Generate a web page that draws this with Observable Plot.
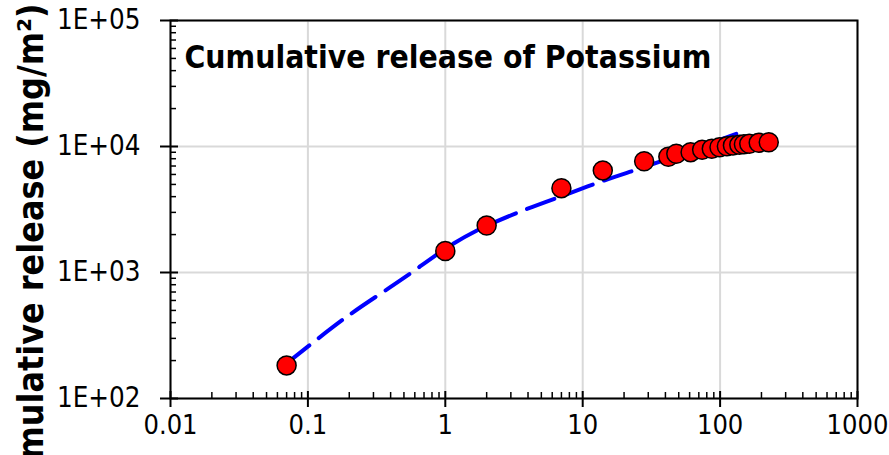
<!DOCTYPE html>
<html><head><meta charset="utf-8">
<script src="https://cdn.jsdelivr.net/npm/d3@7"></script>
<script src="https://cdn.jsdelivr.net/npm/@observablehq/plot@0.6"></script>
<style>html,body{margin:0;padding:0;background:#fff;overflow:hidden}</style>
</head><body><div id="chart"></div>
<script>
// Measured data (days, mg/m2)
const timeDays = [0.07, 1, 2, 7, 14, 28, 42, 48, 61, 74, 87, 99, 112, 124, 138, 149, 163, 191, 226];
const cumulativeRelease = [183, 1480, 2360, 4670, 6460, 7640, 8300, 8750, 9020, 9420, 9590, 9870, 10050, 10180, 10310, 10420, 10500, 10690, 10810];
// Dashed model curve
const modelTime = [0.07, 0.19, 0.47, 1.09, 1.70, 3.43, 8.17, 14.3, 33.1, 131];
const modelRelease = [190, 442, 865, 1637, 2154, 3013, 4285, 5370, 7300, 12620];
// Axes
const xTicks = [0.01, 0.1, 1, 10, 100, 1000];
const xTickLabels = ["0.01", "0.1", "1", "10", "100", "1000"];
const yTicks = [100, 1000, 10000, 100000];
const yTickLabels = ["1E+02", "1E+03", "1E+04", "1E+05"];
const titleText = "Cumulative release of Potassium";
const yLabelText = "Cumulative release (mg/m²)";

const minorOf = (majors) => {
  const out = [];
  for (let i = 0; i < majors.length - 1; i++) for (let k = 2; k <= 9; k++) out.push(majors[i] * k);
  return out;
};
const xMinor = minorOf(xTicks);
const yMinor = minorOf(yTicks);

const pts = timeDays.map((t, i) => ({t, v: cumulativeRelease[i]}));
const model = modelTime.map((t, i) => ({t, v: modelRelease[i]}));

const FONT = "'DejaVu Sans Condensed','DejaVu Sans',sans-serif";

const chart = Plot.plot({
  width: 889, height: 455,
  marginLeft: 170, marginRight: 32, marginTop: 20, marginBottom: 57,
  x: {type: "log", domain: [0.01, 1000]},
  y: {type: "log", domain: [100, 100000]},
  style: {fontFamily: FONT, background: "white", color: "black"},
  marks: [
    Plot.gridX(xTicks, {stroke: "#d9d9d9", strokeOpacity: 1, strokeWidth: 2}),
    Plot.gridY(yTicks, {stroke: "#d9d9d9", strokeOpacity: 1, strokeWidth: 2}),
    Plot.line(model, {x: "t", y: "v", stroke: "#0000ff", strokeWidth: 4, strokeDasharray: "29,12", curve: "catmull-rom"}),
    Plot.dot(pts, {x: "t", y: "v", r: 9.5, fill: "#ff0000", stroke: "black", strokeWidth: 1.5}),
    Plot.frame({stroke: "black", strokeWidth: 2}),
    // minor ticks (inside)
    Plot.axisX(xMinor, {anchor: "bottom", tickSize: 6, dy: -6, text: null, label: null, strokeWidth: 1.5}),
    Plot.axisY(yMinor, {anchor: "left", tickSize: 6, dx: 6, text: null, label: null, strokeWidth: 1.5}),
    // major ticks (crossing)
    Plot.axisX(xTicks, {anchor: "bottom", tickSize: 16, dy: -7, text: null, label: null, strokeWidth: 2}),
    Plot.axisY(yTicks, {anchor: "left", tickSize: 18, dx: 8, text: null, label: null, strokeWidth: 2}),
    // labels
    Plot.axisX(xTicks, {anchor: "bottom", tickSize: 0, tickPadding: 16, label: null, fontSize: 27,
      tickFormat: d => xTickLabels[xTicks.indexOf(d)]}),
    Plot.axisY(yTicks, {anchor: "left", tickSize: 0, tickPadding: 30, label: null, fontSize: 27.5,
      tickFormat: d => yTickLabels[yTicks.indexOf(d)]}),
    Plot.text([titleText], {frameAnchor: "top-left", text: d => d, dx: 14, dy: 37, textAnchor: "start",
      lineAnchor: "middle", fontSize: 31.6, fontWeight: "bold"}),
    Plot.text([yLabelText], {frameAnchor: "top-left", text: d => d, rotate: -90, textAnchor: "end",
      lineAnchor: "bottom", dx: -128, dy: -17, fontSize: 35.5, fontWeight: "bold"})
  ]
});
document.getElementById("chart").appendChild(chart);
</script>
</body></html>
